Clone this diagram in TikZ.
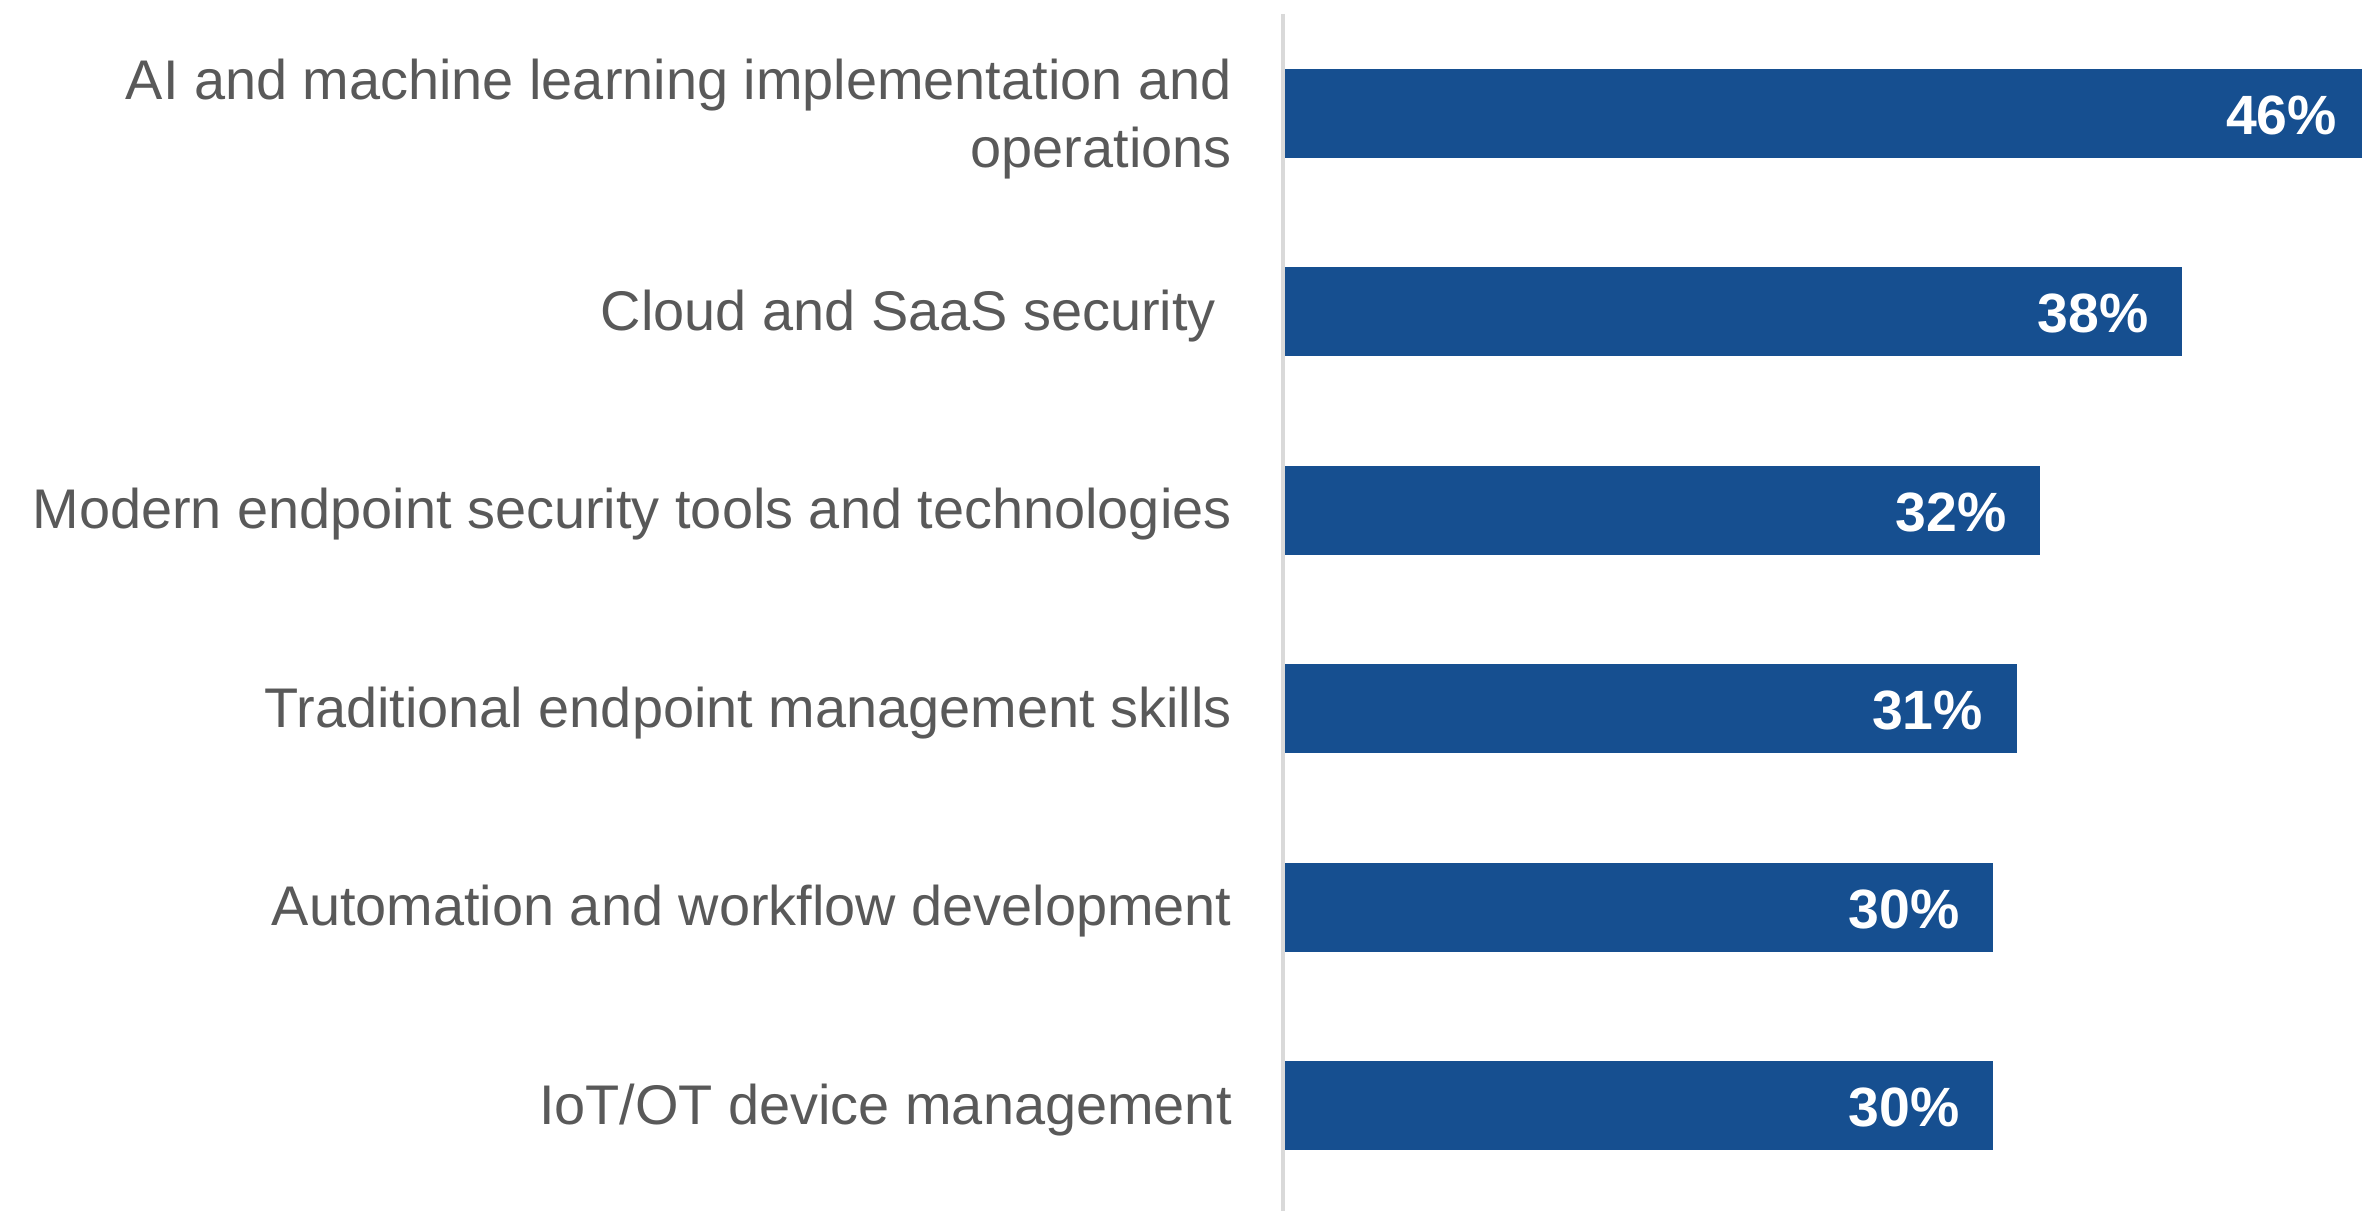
\documentclass[tikz,border=0pt]{standalone}
\usepackage{xcolor}
\usepackage{fontspec}
\setmainfont{Liberation Sans}
\usetikzlibrary{positioning,calc}

\definecolor{barblue}{HTML}{164F90}
\definecolor{labelgray}{HTML}{595959}
\definecolor{axisgray}{HTML}{D9D9D9}

\begin{document}
\begin{tikzpicture}[bar/.style = {rectangle,fill=barblue,draw=none,inner sep=0pt,minimum height=1.78cm,anchor=west}]
		\tikzset{cat/.style={anchor=east,align=right,inner sep=0pt,text=labelgray,font=\fontsize{31.8}{38.6}\selectfont}}
		\tikzset{val/.style={anchor=east,inner sep=0pt,text=white,font=\fontsize{31.5}{38.6}\selectfont\bfseries}}

		\useasboundingbox (0,0) rectangle (47.24,24.22);
		\clip (0,0) rectangle (47.24,24.22);

		% Axis
		\coordinate (axtop) at (25.66,23.94);
		\coordinate (axbot) at (25.66,0);
		\draw[axisgray, line width=2pt] (axtop) -- (axbot);

		% Bars
		\node[bar, minimum width=21.71cm] (ai) at (25.7,21.95) {};
		\node[bar, minimum width=17.94cm] (cloud) at (25.7,17.98) {};
		\node[bar, minimum width=15.10cm] (modern) at (25.7,14.01) {};
		\node[bar, minimum width=14.63cm] (trad) at (25.7,10.04) {};
		\node[bar, minimum width=14.16cm] (auto) at (25.7,6.07) {};
		\node[bar, minimum width=14.16cm] (iot) at (25.7,2.10) {};

		% Values
		\node[val] (aival) at ([xshift=-0.68cm,yshift=-0.03cm]ai.east) {46\%};
		\node[val] (cloudval) at ([xshift=-0.68cm,yshift=-0.03cm]cloud.east) {38\%};
		\node[val] (modernval) at ([xshift=-0.68cm,yshift=-0.03cm]modern.east) {32\%};
		\node[val] (tradval) at ([xshift=-0.68cm,yshift=-0.03cm]trad.east) {31\%};
		\node[val] (autoval) at ([xshift=-0.68cm,yshift=-0.03cm]auto.east) {30\%};
		\node[val] (iotval) at ([xshift=-0.68cm,yshift=-0.03cm]iot.east) {30\%};

		% Categories
		\node[cat] (ailab) at (24.64,21.84) {AI and machine learning implementation and\\operations};
		\node[cat] (cloudlab) at (24.64,17.90) {Cloud and SaaS security\kern0.28em};
		\node[cat] (modernlab) at (24.64,13.93) {Modern endpoint security tools and technologies};
		\node[cat] (tradlab) at (24.64,9.96) {Traditional endpoint management skills};
		\node[cat] (autolab) at (24.64,5.99) {Automation and workflow development};
		\node[cat] (iotlab) at (24.64,2.02) {IoT/OT device management};

	\end{tikzpicture}
\end{document}
